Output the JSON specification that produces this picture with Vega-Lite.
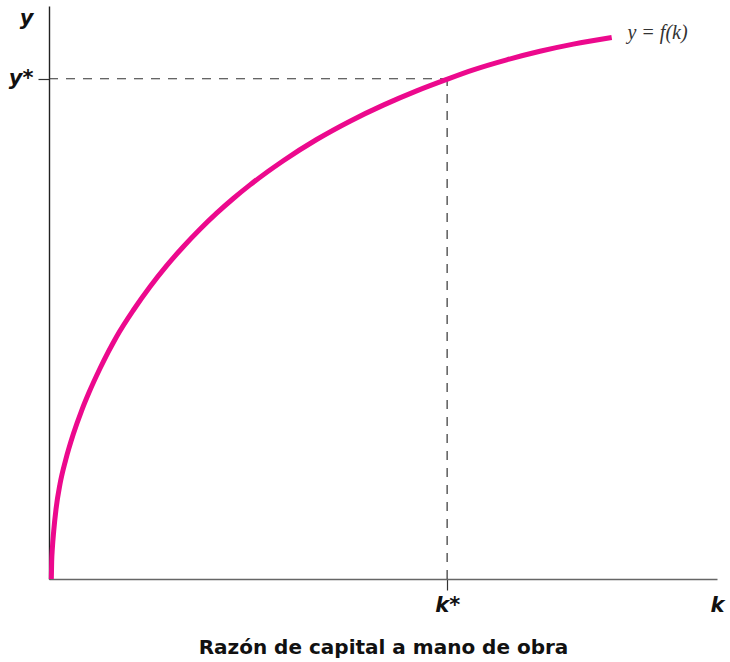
{
  "$schema": "https://vega.github.io/schema/vega-lite/v6.json",
  "width": 668,
  "height": 573,
  "autosize": "none",
  "padding": {"left": 49, "top": 6, "right": 13, "bottom": 83},
  "background": "white",
  "config": {"view": {"stroke": null}},
  "datasets": {
    "curve": [
      {"k": 0.35, "y": 0},
      {"k": 0.4, "y": 3.0},
      {"k": 0.5, "y": 5.3},
      {"k": 0.7, "y": 8.3},
      {"k": 1.05, "y": 12.2},
      {"k": 1.65, "y": 16.6},
      {"k": 2.5, "y": 20.8},
      {"k": 3.64, "y": 25.3},
      {"k": 4.9, "y": 29.44},
      {"k": 6.0, "y": 32.58},
      {"k": 7.63, "y": 36.74},
      {"k": 10.13, "y": 42.33},
      {"k": 12.62, "y": 46.9},
      {"k": 15.12, "y": 51.0},
      {"k": 17.62, "y": 54.68},
      {"k": 20.1, "y": 57.99},
      {"k": 22.6, "y": 61.04},
      {"k": 25.1, "y": 63.84},
      {"k": 27.59, "y": 66.4},
      {"k": 30.09, "y": 68.78},
      {"k": 35.07, "y": 73.0},
      {"k": 40.07, "y": 76.7},
      {"k": 45.06, "y": 79.9},
      {"k": 50.04, "y": 82.7},
      {"k": 55.04, "y": 85.19},
      {"k": 59.54, "y": 87.19},
      {"k": 63.52, "y": 88.85},
      {"k": 68.52, "y": 90.6},
      {"k": 73.5, "y": 92.1},
      {"k": 78.49, "y": 93.35},
      {"k": 84.24, "y": 94.5}
    ],
    "guides": [
      {"x": 0, "x2": 59.6, "y": 87.3, "y2": 87.3},
      {"x": 59.6, "x2": 59.6, "y": 0, "y2": 87.3}
    ],
    "labels": [
      {"k": 86.6, "y": 95.3, "text": "y = f(k)"}
    ]
  },
  "layer": [
    {
      "data": {"name": "guides"},
      "mark": {"type": "rule", "color": "#333333", "strokeWidth": 1.2, "strokeDash": [9, 8]},
      "encoding": {
        "x": {"field": "x", "type": "quantitative", "scale": {"domain": [0, 100]}},
        "x2": {"field": "x2"},
        "y": {"field": "y", "type": "quantitative", "scale": {"domain": [0, 100]}},
        "y2": {"field": "y2"}
      }
    },
    {
      "data": {"name": "curve"},
      "mark": {"type": "line", "color": "#EC098D", "strokeWidth": 5, "interpolate": "monotone", "strokeCap": "butt"},
      "encoding": {
        "x": {
          "field": "k", "type": "quantitative",
          "scale": {"domain": [0, 100], "nice": false},
          "axis": {
            "values": [59.6, 100],
            "labelExpr": "datum.value == 100 ? 'k' : 'k*'",
            "grid": false,
            "domainColor": "#666666",
            "domainWidth": 1.6,
            "tickSize": 11,
            "tickColor": "#333333",
            "tickWidth": 1.2,
            "tickOpacity": {"condition": {"test": "datum.value == 100", "value": 0}, "value": 1},
            "labelFont": "DejaVu Sans",
            "labelFontSize": 21,
            "labelFontWeight": "bold",
            "labelFontStyle": "italic",
            "labelColor": "#111111",
            "labelPadding": 4,
            "labelFlush": false,
            "labelOverlap": false,
            "title": "Razón de capital a mano de obra",
            "titleFont": "DejaVu Sans",
            "titleFontSize": 20,
            "titleFontWeight": "bold",
            "titleColor": "#111111",
            "titlePadding": 22
          }
        },
        "y": {
          "field": "y", "type": "quantitative",
          "scale": {"domain": [0, 100], "nice": false},
          "axis": {
            "values": [87.3, 97.9],
            "labelExpr": "datum.value > 90 ? 'y' : 'y*'",
            "grid": false,
            "domainColor": "#222222",
            "domainWidth": 1.4,
            "tickSize": 11,
            "tickColor": "#333333",
            "tickWidth": 1.2,
            "tickOpacity": {"condition": {"test": "datum.value > 90", "value": 0}, "value": 1},
            "labelFont": "DejaVu Sans",
            "labelFontSize": 21,
            "labelFontWeight": "bold",
            "labelFontStyle": "italic",
            "labelColor": "#111111",
            "labelPadding": 5,
            "labelFlush": false,
            "labelOverlap": false,
            "title": null
          }
        }
      }
    },
    {
      "data": {"name": "labels"},
      "mark": {"type": "text", "align": "left", "baseline": "middle", "font": "Liberation Serif", "fontStyle": "italic", "fontSize": 20, "color": "#333333"},
      "encoding": {
        "x": {"field": "k", "type": "quantitative"},
        "y": {"field": "y", "type": "quantitative"},
        "text": {"field": "text"}
      }
    }
  ]
}
